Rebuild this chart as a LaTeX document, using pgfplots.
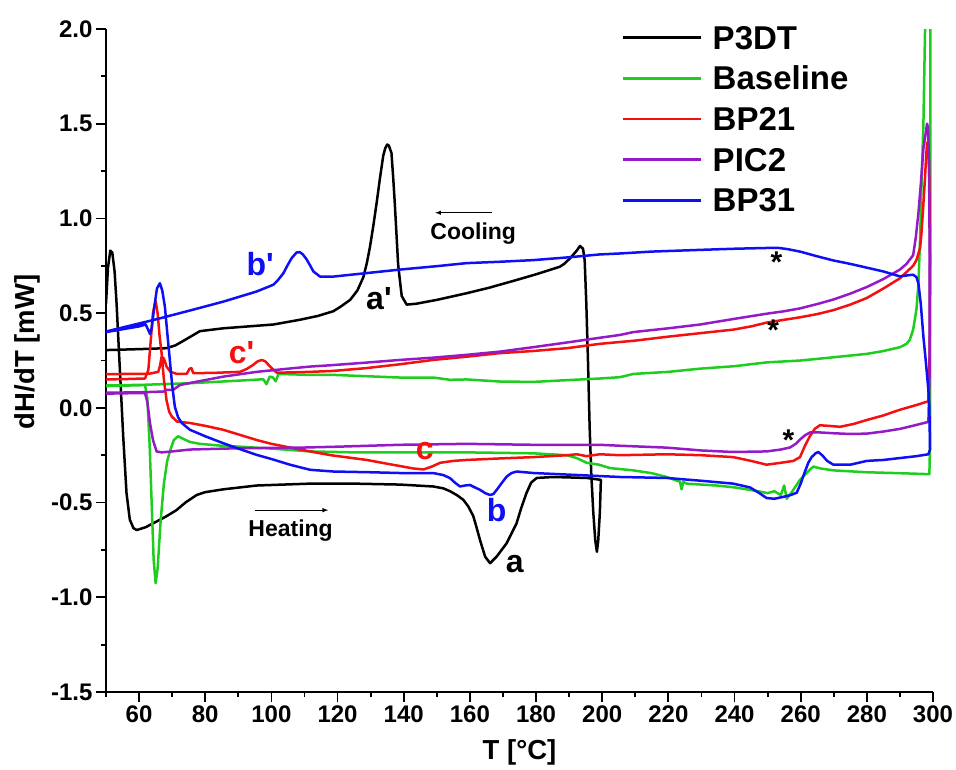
\documentclass[border=0pt]{standalone}
\usepackage{fontspec}
\setmainfont{Liberation Sans}
\usepackage{pgfplots}
\pgfplotsset{compat=1.18}

\definecolor{cBase}{RGB}{30,205,30}
\definecolor{cRed}{RGB}{245,15,15}
\definecolor{cPurple}{RGB}{150,25,200}
\definecolor{cBlue}{RGB}{15,15,245}

\begin{document}
\begin{tikzpicture}
\useasboundingbox (-106pt,-77pt) rectangle (850pt,692pt);
\begin{axis}[
  scale only axis, width=827pt, height=663pt,
  at={(0,0)}, anchor=south west,
  xmin=50, xmax=300, ymin=-1.5, ymax=2.0,
  axis lines=left, axis line style={-, line width=1.8pt},
  xtick={60,80,...,300}, minor xtick={50,70,...,290},
  ytick={-1.5,-1,...,2}, minor ytick={-1.25,-0.75,...,1.75},
  tick align=outside, major tick length=10pt, minor tick length=5pt,
  every tick/.style={black, line width=1.8pt},
  /pgf/number format/assume math mode=true,
  yticklabel style={/pgf/number format/.cd, fixed, fixed zerofill, precision=1},
  ticklabel style={font=\fontsize{24}{28}\selectfont\bfseries},
  xlabel={T [°C]}, ylabel={dH/dT [mW]},
  label style={font=\fontsize{27.5}{32}\selectfont\bfseries},
  xlabel style={at={(axis description cs:0.5,-0.102)}, anchor=base},
  ylabel style={at={(axis description cs:-0.095,0.513)}, anchor=center},
  legend style={draw=none, fill=none, at={(axis description cs:0.624,1.0)},
    anchor=north west, yshift=12pt, inner sep=0pt, row sep=0pt,
    font=\fontsize{33}{38}\selectfont\bfseries,
    nodes={inner sep=0pt, text height=31.8pt, text depth=8.9pt},
    /tikz/every odd column/.append style={column sep=10pt}},
  legend cell align=left,
  legend image code/.code={\draw[#1] (0pt,0pt) -- (78pt,0pt);},
  every axis plot/.append style={line width=2.5pt, line join=round},
]

% P3DT: heating 50 -> 200, then cooling back to 50
\addplot[black] coordinates {
(50,0.55) (50.6,0.74) (51.3,0.83) (51.9,0.82) (52.6,0.72) (53.2,0.55) (54.2,0.20)
(55.2,-0.15) (56.2,-0.45) (57.2,-0.59) (58.3,-0.635) (59.3,-0.645) (62,-0.63)
(65.3,-0.60) (68,-0.575) (71.3,-0.54) (74,-0.50) (77.4,-0.46) (80,-0.445)
(85.5,-0.43) (95.5,-0.41) (111.7,-0.40) (125,-0.40) (138.9,-0.405) (148.9,-0.415)
(152,-0.425) (154,-0.44) (156,-0.46) (158,-0.485) (159.5,-0.52) (161,-0.57)
(162,-0.63) (163.1,-0.70) (164.6,-0.785) (166.1,-0.82) (168.1,-0.785) (171.1,-0.715)
(174.1,-0.61) (175.5,-0.53) (177.1,-0.45) (178.5,-0.395) (180.2,-0.37) (185.2,-0.365)
(195.3,-0.37) (199.6,-0.38)
(199.3,-0.55) (198.8,-0.70) (198.4,-0.76) (197.9,-0.70) (197.3,-0.55) (196.7,-0.35)
(196.2,-0.1) (195.7,0.25) (195.2,0.55) (194.7,0.78) (194.2,0.84) (193.3,0.855)
(192.3,0.83) (190.3,0.79) (188.5,0.76) (187.2,0.745) (180,0.705) (174.1,0.675)
(166,0.635) (159,0.605) (150,0.57) (143.9,0.55) (140.9,0.545) (139.4,0.59)
(138.8,0.68) (138.3,0.76) (137.8,0.92) (137.3,1.08) (136.8,1.22) (136.3,1.345)
(135.5,1.385) (135.0,1.39) (134.4,1.37) (133.8,1.33) (132.8,1.21) (131.8,1.08)
(130.8,0.96) (129.8,0.85) (128.8,0.76) (127.8,0.69) (126,0.62) (123.8,0.57)
(121,0.535) (118.7,0.51) (114,0.485) (108.6,0.465) (100.6,0.44) (85.5,0.42)
(78.4,0.405) (74,0.36) (71,0.33) (68.3,0.315) (60,0.31) (50,0.305)
};
\addlegendentry{P3DT}

% Baseline
\addplot[cBase] coordinates {
(50,0.115) (55,0.117) (61.8,0.12) (62.5,0.05) (63.2,-0.2) (63.8,-0.5) (64.4,-0.8)
(65.0,-0.925) (65.6,-0.85) (66.5,-0.6) (67.5,-0.4) (68.5,-0.28) (69.5,-0.22)
(70.5,-0.17) (71.8,-0.15) (73.5,-0.165) (75.4,-0.18) (78.4,-0.19) (85,-0.2)
(90.5,-0.205) (100,-0.215) (111.7,-0.23) (125,-0.235) (143.9,-0.235) (159,-0.235)
(179.2,-0.24) (189.2,-0.25) (192.3,-0.265) (195.3,-0.29) (199,-0.30) (202.4,-0.318)
(209.4,-0.33) (215,-0.345) (219.5,-0.365) (223.5,-0.39) (224,-0.43) (224.5,-0.39)
(225.5,-0.40) (230,-0.405) (234.6,-0.41) (240,-0.42) (243.7,-0.43) (247,-0.44)
(250,-0.45) (252,-0.44) (254,-0.46) (255,-0.41) (255.8,-0.48) (257.5,-0.44)
(259.8,-0.38) (262,-0.34) (263.8,-0.31) (266,-0.32) (269.9,-0.33) (280,-0.34)
(290,-0.345) (298.9,-0.35) (299.1,-0.2) (299.2,1.0) (299.2,2.6) (298.5,2.6)
(297.6,2.0) (297.1,1.5) (296.6,1.22) (296.1,0.9) (295.6,0.656) (295,0.52)
(294,0.413) (293,0.36) (292,0.338) (290,0.32) (285,0.30) (280,0.285) (269.9,0.267)
(260,0.25) (249.7,0.24) (240,0.22) (229.6,0.207) (220,0.19) (209.4,0.179)
(205.4,0.162) (199.3,0.155) (191.3,0.148) (179.2,0.137) (169.1,0.139) (159,0.15)
(154,0.148) (149,0.16) (138.9,0.16) (118.7,0.174) (111.7,0.174) (104,0.178)
(102.1,0.178) (101.3,0.14) (100.5,0.16) (99.5,0.165) (98.5,0.125) (97.6,0.15)
(96.6,0.15) (90.5,0.144) (75.4,0.13) (61.8,0.122) (50,0.118)
};
\addlegendentry{Baseline}

% BP21
\addplot[cRed] coordinates {
(50,0.15) (56,0.152) (61.8,0.155) (62.8,0.2) (63.5,0.35) (64.2,0.50) (65.0,0.565)
(65.6,0.50) (66.2,0.38) (66.8,0.29) (67.5,0.15) (68.3,0.04) (69.1,-0.02)
(69.9,-0.046) (71.4,-0.072) (75.4,-0.08) (80,-0.095) (85.5,-0.116) (90,-0.14)
(95.6,-0.17) (100,-0.19) (108.6,-0.22) (118,-0.25) (128.8,-0.275) (135,-0.295)
(142.9,-0.32) (146,-0.325) (148.5,-0.31) (151,-0.29) (155,-0.28) (159,-0.275)
(169.1,-0.267) (179.2,-0.26) (189.3,-0.25) (192.3,-0.245) (195.3,-0.255)
(199.3,-0.245) (205.4,-0.25) (219.5,-0.245) (230,-0.25) (239.6,-0.26) (245,-0.28)
(249.7,-0.30) (254,-0.29) (257.8,-0.28) (259.8,-0.26) (261.3,-0.2) (262.8,-0.149)
(264.3,-0.11) (265.8,-0.092) (268.5,-0.095) (271.9,-0.10) (276,-0.085) (280,-0.064)
(285,-0.04) (290,-0.01) (295,0.015) (298.6,0.035) (299.0,0.3) (299.1,0.8)
(298.9,1.2) (298.6,1.40) (298.2,1.40) (297.9,1.32) (297.6,1.22) (297.0,1.05)
(296.5,0.92) (296.1,0.845) (295,0.78) (294,0.75) (290,0.684) (285,0.63) (280,0.58)
(275,0.545) (269.9,0.516) (265,0.495) (259.8,0.478) (255,0.465) (249.7,0.45)
(245,0.43) (239.6,0.413) (230,0.395) (219.5,0.375) (210,0.355) (199.3,0.338)
(189.3,0.315) (179,0.30) (169.1,0.289) (159,0.27) (148.9,0.253) (138.8,0.23)
(128.8,0.21) (118.7,0.195) (111.7,0.19) (103,0.186) (101.6,0.186) (99.6,0.218)
(98.2,0.245) (97.1,0.253) (95.8,0.245) (94.5,0.227) (92.5,0.205) (90.5,0.19)
(83,0.185) (76.4,0.183) (75.8,0.21) (75.2,0.205) (74.4,0.18) (71.3,0.18)
(69.5,0.19) (68.3,0.218) (67.5,0.26) (66.8,0.27) (66.3,0.22) (65.8,0.19) (63,0.18)
(50,0.178)
};
\addlegendentry{BP21}

% PIC2
\addplot[cPurple] coordinates {
(50,0.075) (56,0.077) (61.8,0.078) (62.5,0.03) (63.3,-0.08) (64.2,-0.17)
(65.3,-0.23) (66.8,-0.235) (70,-0.23) (75.4,-0.22) (90.5,-0.213) (108.6,-0.21)
(120,-0.205) (138.9,-0.195) (159,-0.19) (179.2,-0.195) (199.3,-0.195) (205.4,-0.2)
(219.5,-0.21) (230,-0.225) (239.6,-0.233) (249.7,-0.23) (254,-0.22) (256.8,-0.209)
(258.5,-0.19) (259.8,-0.167) (261.3,-0.145) (262.8,-0.13) (266,-0.13) (269.9,-0.134)
(275,-0.138) (280,-0.136) (285,-0.125) (290,-0.111) (295,-0.09) (298.6,-0.074)
(299.0,0.2) (299.0,0.8) (298.8,1.3) (298.5,1.48) (298.2,1.50) (297.8,1.45)
(297.1,1.37) (296.4,1.2) (295.6,1.03) (294.8,0.9) (294,0.806) (292,0.76) (290,0.73)
(285,0.68) (280,0.638) (275,0.603) (269.9,0.572) (265,0.548) (259.8,0.525)
(255,0.51) (249.7,0.497) (240,0.47) (229.6,0.44) (220,0.42) (209.4,0.40)
(205.4,0.385) (199.3,0.37) (189.3,0.345) (179,0.32) (169.1,0.297) (159,0.28)
(148.9,0.265) (138.9,0.253) (128,0.238) (118,0.225) (111.7,0.218) (104,0.205)
(95.5,0.19) (85.5,0.165) (78,0.14) (72.4,0.121) (70.3,0.095) (68.3,0.095)
(67.3,0.086) (60,0.082) (50,0.08)
};
\addlegendentry{PIC2}

% BP31
\addplot[cBlue] coordinates {
(50,0.40) (55,0.415) (60,0.43) (62.0,0.44) (62.8,0.41) (63.3,0.39) (63.8,0.42)
(64.5,0.52) (65.4,0.63) (66.3,0.658) (67.0,0.62) (67.8,0.535) (68.5,0.40)
(69.3,0.253) (70.0,0.12) (70.8,0.007) (71.8,-0.05) (72.9,-0.08) (75.4,-0.116)
(80,-0.15) (85.5,-0.187) (90,-0.215) (95.5,-0.248) (100,-0.27) (105.6,-0.30)
(111.7,-0.327) (118.7,-0.336) (130,-0.34) (138.9,-0.344) (148.9,-0.344)
(152,-0.355) (154,-0.371) (155.5,-0.395) (157,-0.415) (158.5,-0.41) (160,-0.407)
(161.5,-0.42) (163.1,-0.433) (164.6,-0.45) (166.1,-0.46) (167.1,-0.455)
(168.1,-0.433) (169.5,-0.40) (171.1,-0.363) (172.5,-0.345) (174.1,-0.336)
(179.2,-0.344) (189.3,-0.352) (199.3,-0.36) (205.4,-0.365) (219.5,-0.37)
(230,-0.385) (239.6,-0.40) (244.7,-0.42) (247.5,-0.45) (249.7,-0.476) (252,-0.48)
(254.7,-0.47) (257,-0.46) (258.8,-0.448) (260,-0.40) (261.3,-0.336) (262.3,-0.29)
(263.3,-0.26) (264.5,-0.24) (265.3,-0.233) (266.5,-0.25) (268,-0.28) (269.9,-0.30)
(275,-0.30) (280,-0.28) (285,-0.275) (290,-0.265) (295,-0.255) (298.6,-0.245)
(299.1,-0.22) (298.9,0.0) (298.6,0.095) (297.8,0.25) (297.1,0.375) (296.3,0.55)
(295.6,0.656) (295,0.69) (294,0.703) (292.5,0.70) (290,0.694) (285,0.72) (280,0.74)
(275,0.76) (269.9,0.778) (265,0.80) (259.8,0.825) (256,0.838) (253,0.845)
(249.7,0.844) (240,0.84) (229.6,0.834) (215,0.825) (205.4,0.815) (199.3,0.81)
(190,0.795) (179.2,0.78) (170,0.772) (159,0.764) (150,0.748) (138.9,0.73)
(128,0.71) (118.7,0.693) (114.7,0.693) (112.7,0.72) (111.6,0.755) (110.6,0.785)
(109.5,0.81) (108.6,0.822) (107.6,0.82) (106.1,0.79) (104.8,0.75) (103.6,0.71)
(102,0.675) (100.6,0.65) (95.5,0.614) (85.5,0.561) (75.4,0.514) (65.3,0.468)
(50,0.403)
};
\addlegendentry{BP31}

% peak labels
\begin{scope}[every node/.style={font=\fontsize{32}{36}\selectfont\bfseries, anchor=base, inner sep=0pt}]
\node[text=cBlue] at (axis cs:96.6,0.70) {b\textquotesingle};
\node[text=black] at (axis cs:132.5,0.52) {a\textquotesingle};
\node[text=cRed] at (axis cs:91.0,0.236) {c\textquotesingle};
\node[text=cRed] at (axis cs:146.4,-0.275) {c};
\node[text=cBlue] at (axis cs:168.1,-0.60) {b};
\node[text=black] at (axis cs:173.6,-0.87) {a};
\end{scope}
\begin{scope}[every node/.style={font=\fontsize{30}{34}\selectfont\bfseries, anchor=center, inner sep=0pt}]
\node at (axis cs:252.7,0.77) {*};
\node at (axis cs:251.7,0.41) {*};
\node at (axis cs:256.3,-0.17) {*};
\end{scope}

% scan direction
\node[font=\fontsize{23}{27}\selectfont\bfseries, anchor=base] at (axis cs:161,0.89) {Cooling};
\draw[-latex, line width=1pt] (axis cs:166.6,1.03) -- (axis cs:149.5,1.03);
\node[font=\fontsize{23}{27}\selectfont\bfseries, anchor=base] at (axis cs:105.8,-0.68) {Heating};
\draw[-latex, line width=1pt] (axis cs:95,-0.54) -- (axis cs:117.2,-0.54);

\end{axis}
\end{tikzpicture}
\end{document}
